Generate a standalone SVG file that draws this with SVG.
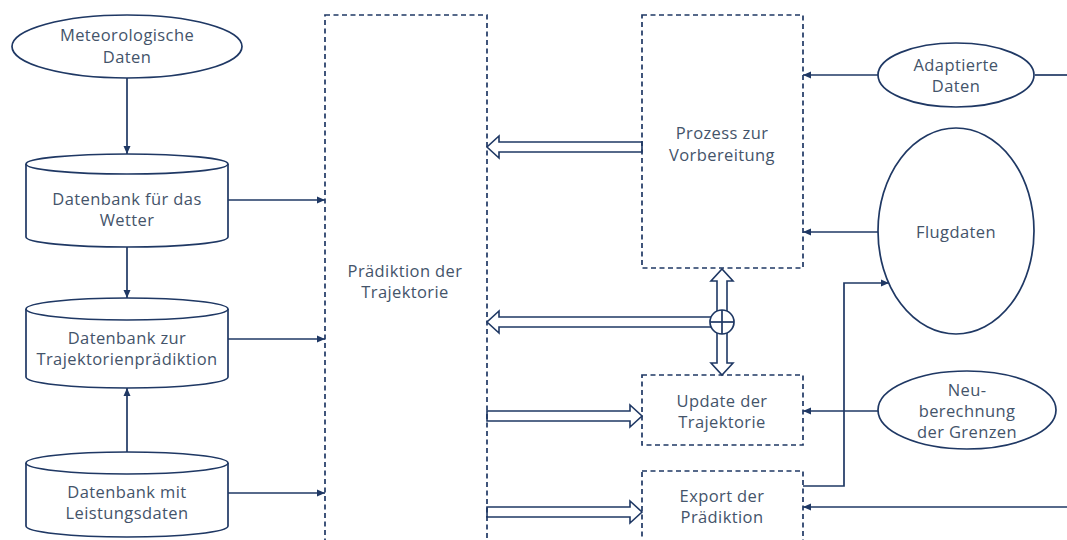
<svg xmlns="http://www.w3.org/2000/svg" width="1067" height="540" viewBox="0 0 1067 540">
<defs>
<marker id="ah" viewBox="0 0 8 8" refX="8" refY="4" markerWidth="8" markerHeight="8" markerUnits="userSpaceOnUse" orient="auto">
<path d="M0,0.5 L8,4 L0,7.5 Z" fill="#1f3864"/>
</marker>
<style>
.s{fill:#fff;stroke:#1f3864;stroke-width:1.7}
.d{fill:none;stroke:#1f3864;stroke-width:1.7;stroke-dasharray:5 3.5}
.c{fill:none;stroke:#1f3864;stroke-width:1.7}
.h{fill:#fff;stroke:#1f3864;stroke-width:1.6;stroke-linejoin:miter}
text{font-family:"Open Sans","Liberation Sans",sans-serif;font-size:16.5px;letter-spacing:0.4px;fill:#44546a;text-anchor:middle}
</style>
</defs>
<rect width="1067" height="540" fill="#fff"/>

<g id="connectors">
<line class="c" x1="127" y1="78" x2="127" y2="154" marker-end="url(#ah)"/>
<line class="c" x1="228" y1="200" x2="325" y2="200" marker-end="url(#ah)"/>
<line class="c" x1="127" y1="247" x2="127" y2="298" marker-end="url(#ah)"/>
<line class="c" x1="228" y1="339" x2="325" y2="339" marker-end="url(#ah)"/>
<line class="c" x1="127" y1="452" x2="127" y2="388" marker-end="url(#ah)"/>
<line class="c" x1="228" y1="493" x2="325" y2="493" marker-end="url(#ah)"/>
<line class="c" x1="878" y1="75" x2="803" y2="75" marker-end="url(#ah)"/>
<line class="c" x1="1035" y1="75" x2="1067" y2="75"/>
<line class="c" x1="878" y1="232" x2="803" y2="232" marker-end="url(#ah)"/>
<line class="c" x1="878" y1="411" x2="803" y2="411" marker-end="url(#ah)"/>
<polyline class="c" points="803,486 844,486 844,283 889,283" marker-end="url(#ah)"/>
<line class="c" x1="1067" y1="507" x2="803" y2="507" marker-end="url(#ah)"/>
<polygon class="h" points="642,142 499,142 499,136 487,147 499,158 499,152 642,152"/>
<polygon class="h" points="711,317 499,317 499,311 487,322 499,333 499,327 711,327"/>
<polygon class="h" points="717,311 717,281 711,281 722,269 733,281 727,281 727,311"/>
<polygon class="h" points="717,333 717,363 711,363 722,375 733,363 727,363 727,333"/>
<polygon class="h" points="487,411 630,411 630,405 642,416 630,427 630,421 487,421"/>
<polygon class="h" points="487,507 630,507 630,501 642,512 630,523 630,517 487,517"/>
<g id="junction">
<circle class="s" cx="722" cy="322" r="12"/>
<line class="c" x1="710" y1="322" x2="734" y2="322"/>
<line class="c" x1="722" y1="310" x2="722" y2="334"/>
</g>
</g>

<g id="meteo">
<ellipse class="s" cx="127" cy="46.5" rx="115" ry="31.5"/>
<text x="127" y="41">Meteorologische</text>
<text x="127" y="63">Daten</text>
</g>

<g id="db-wetter">
<path class="s" d="M26,164 L26,237 A101,10 0 0,0 228,237 L228,164"/>
<ellipse class="s" cx="127" cy="164" rx="101" ry="10"/>
<text x="127" y="205">Datenbank für das</text>
<text x="127" y="226">Wetter</text>
</g>

<g id="db-traj">
<path class="s" d="M26,309 L26,377 A101,11 0 0,0 228,377 L228,309"/>
<ellipse class="s" cx="127" cy="309" rx="101" ry="11"/>
<text x="127" y="344">Datenbank zur</text>
<text x="127" y="365">Trajektorienprädiktion</text>
</g>

<g id="db-leistung">
<path class="s" d="M26,463 L26,526 A101,11 0 0,0 228,526 L228,463"/>
<ellipse class="s" cx="127" cy="463" rx="101" ry="11"/>
<text x="127" y="498">Datenbank mit</text>
<text x="127" y="519">Leistungsdaten</text>
</g>

<g id="praediktion">
<rect class="d" x="325" y="15" width="162" height="540"/>
<text x="405" y="277">Prädiktion der</text>
<text x="405" y="298">Trajektorie</text>
</g>

<g id="prozess">
<rect class="d" x="642" y="15" width="161" height="253"/>
<text x="722" y="139">Prozess zur</text>
<text x="722" y="161">Vorbereitung</text>
</g>

<g id="update">
<rect class="d" x="642" y="375" width="161" height="70"/>
<text x="722" y="407">Update der</text>
<text x="722" y="428">Trajektorie</text>
</g>

<g id="export">
<rect class="d" x="642" y="471" width="161" height="80"/>
<text x="722" y="502">Export der</text>
<text x="722" y="523">Prädiktion</text>
</g>

<g id="adaptierte">
<ellipse class="s" cx="956" cy="75" rx="78" ry="32"/>
<text x="956" y="71">Adaptierte</text>
<text x="956" y="92">Daten</text>
</g>

<g id="flugdaten">
<ellipse class="s" cx="956" cy="231" rx="78" ry="103"/>
<text x="956" y="238">Flugdaten</text>
</g>

<g id="neuberechnung">
<ellipse class="s" cx="967" cy="410" rx="89" ry="39"/>
<text x="967" y="396">Neu-</text>
<text x="967" y="417">berechnung</text>
<text x="967" y="438">der Grenzen</text>
</g>
</svg>
